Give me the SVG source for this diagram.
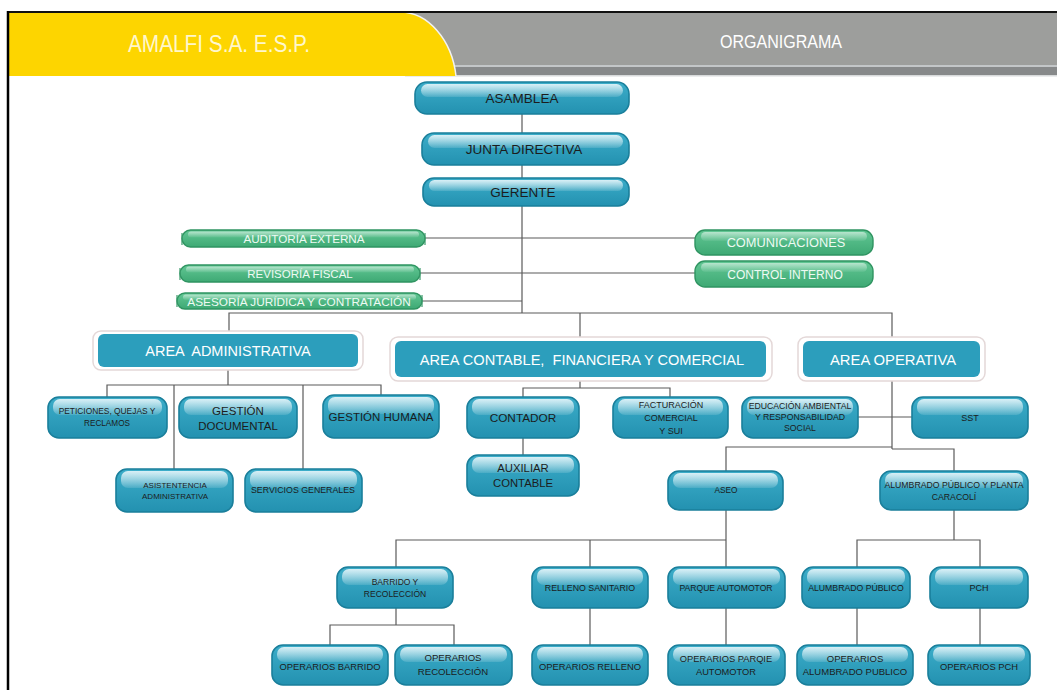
<svg xmlns="http://www.w3.org/2000/svg" width="1057" height="690" viewBox="0 0 1057 690">
<defs>
<linearGradient id="teal" x1="0" y1="0" x2="0" y2="1"><stop offset="0" stop-color="#3cadc9"/><stop offset="1" stop-color="#2391b0"/></linearGradient>
<linearGradient id="gloss" x1="0" y1="0" x2="0" y2="1"><stop offset="0" stop-color="#eaf7fb" stop-opacity="0.9"/><stop offset="1" stop-color="#ffffff" stop-opacity="0.12"/></linearGradient>
<linearGradient id="green" x1="0" y1="0" x2="0" y2="1"><stop offset="0" stop-color="#62c794"/><stop offset="1" stop-color="#3ea974"/></linearGradient>
<linearGradient id="ggloss" x1="0" y1="0" x2="0" y2="1"><stop offset="0" stop-color="#ffffff" stop-opacity="0.55"/><stop offset="1" stop-color="#ffffff" stop-opacity="0.05"/></linearGradient>
<style>
.nb{fill:url(#teal);stroke:#1a7f9b;stroke-width:1.6}
.gl{fill:url(#gloss)}
.gb{fill:url(#green);stroke:#2f9461;stroke-width:1.4}
.ggl{fill:url(#ggloss)}
.tick{stroke:#3a9a6a;stroke-width:1.2}
.ao{fill:#ffffff;stroke:#e4d8d8;stroke-width:1.5}
.ai{fill:#2c9ebc}
.tx{font-family:"Liberation Sans",Arial,sans-serif;fill:#1c1c1c;text-anchor:middle}
.wt{font-family:"Liberation Sans",Arial,sans-serif;fill:#ffffff;text-anchor:middle}
.gt{font-family:"Liberation Sans",Arial,sans-serif;fill:#eefaf3;text-anchor:middle}
.cn{fill:none;stroke:#5a5a5a;stroke-width:1.2}
</style>
</defs>
<rect width="1057" height="690" fill="#ffffff"/>
<g id="header">
<rect x="8" y="12" width="1049" height="64" fill="#9d9e9c"/>
<rect x="405" y="65" width="652" height="2" fill="#c3c6c8"/>
<rect x="405" y="67" width="652" height="8" fill="#87898a"/>
<rect x="405" y="75" width="652" height="1.5" fill="#d8dadb"/>
<path d="M8,12 H400 C428,12 452,40 456,76 H8 Z" fill="#fdd500"/>
<path d="M400,12 C428,12 452,40 456,76" fill="none" stroke="#f2f2f2" stroke-width="1.5"/>
<line x1="7" y1="12" x2="1057" y2="12" stroke="#111111" stroke-width="2"/>
<line x1="8" y1="11" x2="8" y2="690" stroke="#000000" stroke-width="2.5"/>
<text x="128" y="52" font-family="'Liberation Sans',Arial,sans-serif" font-size="23" fill="#fff7cc" textLength="182" lengthAdjust="spacingAndGlyphs">AMALFI S.A. E.S.P.</text>
<text x="720" y="48" font-family="'Liberation Sans',Arial,sans-serif" font-size="19" fill="#ffffff" textLength="122" lengthAdjust="spacingAndGlyphs">ORGANIGRAMA</text>
</g>
<g id="connectors" class="cn">
<path d="M522,114 V313"/>
<path d="M425,238 H695"/>
<path d="M420,273 H695"/>
<path d="M422,301 H522"/>
<path d="M229,335 V313 H892 V340"/>
<path d="M580,313 V340"/>
<path d="M228,368 V385"/>
<path d="M107,397 V385 H381 V395"/>
<path d="M174,385 V469"/>
<path d="M303,385 V469"/>
<path d="M580,378 V388"/>
<path d="M523,397 V388 H670 V397"/>
<path d="M523,438 V455"/>
<path d="M892,378 V449"/>
<path d="M858,417 H912"/>
<path d="M726,471 V447 H892"/>
<path d="M892,449 H954 V471"/>
<path d="M726,510 V567"/>
<path d="M396,567 V540 H726"/>
<path d="M590,540 V567"/>
<path d="M954,510 V540"/>
<path d="M857,567 V540 H980 V567"/>
<path d="M396,608 V625"/>
<path d="M330,645 V625 H454 V645"/>
<path d="M590,608 V645"/>
<path d="M726,608 V645"/>
<path d="M857,608 V645"/>
<path d="M980,608 V645"/>
</g>
<g id="asamblea"><rect class="nb" x="415" y="82" width="214" height="32" rx="12"/><rect class="gl" x="421" y="84" width="202" height="13" rx="6.5"/><text class="tx" x="522" y="103" font-size="13.5">ASAMBLEA</text></g>
<g id="junta-directiva"><rect class="nb" x="422" y="133" width="207" height="32" rx="12"/><rect class="gl" x="428" y="135" width="195" height="13" rx="6.5"/><text class="tx" x="524" y="154" font-size="13.5">JUNTA DIRECTIVA</text></g>
<g id="gerente"><rect class="nb" x="423" y="178" width="206" height="28" rx="11"/><rect class="gl" x="429" y="180" width="194" height="11" rx="5.5"/><text class="tx" x="523" y="197" font-size="13.5">GERENTE</text></g>
<g id="auditoria-externa"><rect class="gb" x="182" y="230" width="243" height="17" rx="8.5"/><rect class="ggl" x="188" y="231.5" width="231" height="6" rx="3"/><line class="tick" x1="182" y1="233" x2="182" y2="245"/><line class="tick" x1="425" y1="233" x2="425" y2="245"/><text class="gt" x="304" y="243" font-size="11.7">AUDITORÍA EXTERNA</text></g>
<g id="revisoria-fiscal"><rect class="gb" x="180" y="265" width="240" height="17" rx="8.5"/><rect class="ggl" x="186" y="266.5" width="228" height="6" rx="3"/><line class="tick" x1="180" y1="268" x2="180" y2="280"/><line class="tick" x1="420" y1="268" x2="420" y2="280"/><text class="gt" x="300" y="278" font-size="11.5">REVISORÍA FISCAL</text></g>
<g id="asesoria-juridica"><rect class="gb" x="177" y="293" width="245" height="16" rx="8"/><rect class="ggl" x="183" y="294.5" width="233" height="5.5" rx="2.7"/><line class="tick" x1="177" y1="295" x2="177" y2="307"/><line class="tick" x1="422" y1="295" x2="422" y2="307"/><text class="gt" x="299" y="305.5" font-size="11.8">ASESORÍA JURÍDICA Y CONTRATACIÓN</text></g>
<g id="comunicaciones"><rect class="gb" x="695" y="230" width="178" height="25" rx="10"/><rect class="ggl" x="701" y="232" width="166" height="9" rx="4.5"/><text class="gt" x="786" y="247" font-size="12.8">COMUNICACIONES</text></g>
<g id="control-interno"><rect class="gb" x="695" y="261" width="178" height="26" rx="10"/><rect class="ggl" x="701" y="263" width="166" height="9" rx="4.5"/><text class="gt" x="785" y="278.5" font-size="12">CONTROL INTERNO</text></g>
<g id="area-administrativa"><rect class="ao" x="93" y="331" width="270" height="39" rx="8"/><rect class="ai" x="98" y="334" width="260" height="33" rx="6"/><text class="wt" x="228" y="356" font-size="14.5" xml:space="preserve">AREA  ADMINISTRATIVA</text></g>
<g id="area-contable"><rect class="ao" x="390" y="337" width="382" height="44" rx="8"/><rect class="ai" x="395" y="341" width="371" height="36" rx="6"/><text class="wt" x="582" y="364.5" font-size="14.6" xml:space="preserve">AREA CONTABLE,  FINANCIERA Y COMERCIAL</text></g>
<g id="area-operativa"><rect class="ao" x="798" y="337" width="187" height="44" rx="8"/><rect class="ai" x="803" y="341" width="177" height="36" rx="6"/><text class="wt" x="893" y="364.5" font-size="14.8">AREA OPERATIVA</text></g>
<g id="pqr"><rect class="nb" x="48" y="397" width="119" height="41" rx="11"/><rect class="gl" x="53" y="399" width="109" height="16" rx="7"/><text class="tx" x="107" y="414" font-size="8.4">PETICIONES, QUEJAS Y</text><text class="tx" x="107" y="425.5" font-size="8.2">RECLAMOS</text></g>
<g id="gestion-documental"><rect class="nb" x="179" y="397" width="118" height="41" rx="11"/><rect class="gl" x="184" y="399" width="108" height="16" rx="7"/><text class="tx" x="238" y="415" font-size="11.5">GESTIÓN</text><text class="tx" x="238" y="430" font-size="11.5">DOCUMENTAL</text></g>
<g id="gestion-humana"><rect class="nb" x="323" y="395" width="116" height="43" rx="11"/><rect class="gl" x="328" y="397" width="106" height="17" rx="7"/><text class="tx" x="381" y="421" font-size="11.5">GESTIÓN HUMANA</text></g>
<g id="asistencia-administrativa"><rect class="nb" x="116" y="469" width="117" height="43" rx="11"/><rect class="gl" x="121" y="471" width="107" height="17" rx="7"/><text class="tx" x="175" y="488" font-size="8">ASISTENTENCIA</text><text class="tx" x="175" y="499" font-size="8">ADMINISTRATIVA</text></g>
<g id="servicios-generales"><rect class="nb" x="245" y="469" width="117" height="43" rx="11"/><rect class="gl" x="250" y="471" width="107" height="17" rx="7"/><text class="tx" x="303" y="493" font-size="8.8">SERVICIOS GENERALES</text></g>
<g id="contador"><rect class="nb" x="467" y="397" width="112" height="41" rx="11"/><rect class="gl" x="472" y="399" width="102" height="16" rx="7"/><text class="tx" x="523" y="422" font-size="11.8">CONTADOR</text></g>
<g id="auxiliar-contable"><rect class="nb" x="467" y="455" width="112" height="41" rx="11"/><rect class="gl" x="472" y="457" width="102" height="16" rx="7"/><text class="tx" x="523" y="472" font-size="11.3">AUXILIAR</text><text class="tx" x="523" y="487" font-size="11.3">CONTABLE</text></g>
<g id="facturacion"><rect class="nb" x="613" y="397" width="115" height="41" rx="11"/><rect class="gl" x="618" y="399" width="105" height="16" rx="7"/><text class="tx" x="671" y="408" font-size="9">FACTURACIÓN</text><text class="tx" x="671" y="421" font-size="9">COMERCIAL</text><text class="tx" x="671" y="434" font-size="9">Y SUI</text></g>
<g id="educacion-ambiental"><rect class="nb" x="742" y="397" width="116" height="41" rx="11"/><rect class="gl" x="747" y="399" width="106" height="16" rx="7"/><text class="tx" x="800" y="409" font-size="8.7">EDUCACIÓN AMBIENTAL</text><text class="tx" x="800" y="420" font-size="8.7">Y RESPONSABILIDAD</text><text class="tx" x="800" y="431" font-size="8.7">SOCIAL</text></g>
<g id="sst"><rect class="nb" x="912" y="397" width="116" height="41" rx="11"/><rect class="gl" x="917" y="399" width="106" height="16" rx="7"/><text class="tx" x="970" y="420.5" font-size="9">SST</text></g>
<g id="aseo"><rect class="nb" x="668" y="471" width="115" height="39" rx="11"/><rect class="gl" x="673" y="473" width="105" height="15" rx="7"/><text class="tx" x="726" y="493" font-size="8.3">ASEO</text></g>
<g id="alumbrado-planta"><rect class="nb" x="880" y="471" width="148" height="39" rx="11"/><rect class="gl" x="885" y="473" width="138" height="15" rx="7"/><text class="tx" x="954" y="488" font-size="8.7">ALUMBRADO PÚBLICO Y PLANTA</text><text class="tx" x="954" y="500" font-size="8.7">CARACOLÍ</text></g>
<g id="barrido-recoleccion"><rect class="nb" x="337" y="567" width="116" height="41" rx="11"/><rect class="gl" x="342" y="569" width="106" height="16" rx="7"/><text class="tx" x="395" y="585" font-size="8.5">BARRIDO Y</text><text class="tx" x="395" y="597" font-size="8.5">RECOLECCIÓN</text></g>
<g id="relleno-sanitario"><rect class="nb" x="532" y="567" width="116" height="41" rx="11"/><rect class="gl" x="537" y="569" width="106" height="16" rx="7"/><text class="tx" x="590" y="591" font-size="8.8">RELLENO SANITARIO</text></g>
<g id="parque-automotor"><rect class="nb" x="668" y="567" width="117" height="41" rx="11"/><rect class="gl" x="673" y="569" width="107" height="16" rx="7"/><text class="tx" x="726" y="591" font-size="8.6">PARQUE AUTOMOTOR</text></g>
<g id="alumbrado-publico"><rect class="nb" x="802" y="567" width="108" height="41" rx="11"/><rect class="gl" x="807" y="569" width="98" height="16" rx="7"/><text class="tx" x="856" y="591" font-size="8.7">ALUMBRADO PÚBLICO</text></g>
<g id="pch"><rect class="nb" x="930" y="567" width="98" height="41" rx="11"/><rect class="gl" x="935" y="569" width="88" height="16" rx="7"/><text class="tx" x="979" y="591" font-size="9">PCH</text></g>
<g id="operarios-barrido"><rect class="nb" x="272" y="645" width="116" height="40" rx="11"/><rect class="gl" x="277" y="647" width="106" height="15" rx="7"/><text class="tx" x="330" y="670" font-size="9.4">OPERARIOS BARRIDO</text></g>
<g id="operarios-recoleccion"><rect class="nb" x="395" y="645" width="117" height="40" rx="11"/><rect class="gl" x="400" y="647" width="107" height="15" rx="7"/><text class="tx" x="453" y="661" font-size="9.6">OPERARIOS</text><text class="tx" x="453" y="675" font-size="9.6">RECOLECCIÓN</text></g>
<g id="operarios-relleno"><rect class="nb" x="532" y="645" width="116" height="40" rx="11"/><rect class="gl" x="537" y="647" width="106" height="15" rx="7"/><text class="tx" x="590" y="670" font-size="9.4">OPERARIOS RELLENO</text></g>
<g id="operarios-parque"><rect class="nb" x="668" y="645" width="117" height="40" rx="11"/><rect class="gl" x="673" y="647" width="107" height="15" rx="7"/><text class="tx" x="726" y="662" font-size="9.3">OPERARIOS PARQIE</text><text class="tx" x="726" y="675" font-size="9.3">AUTOMOTOR</text></g>
<g id="operarios-alumbrado"><rect class="nb" x="797" y="645" width="116" height="40" rx="11"/><rect class="gl" x="802" y="647" width="106" height="15" rx="7"/><text class="tx" x="855" y="662" font-size="9.5">OPERARIOS</text><text class="tx" x="855" y="675" font-size="9.5">ALUMBRADO PUBLICO</text></g>
<g id="operarios-pch"><rect class="nb" x="928" y="645" width="102" height="40" rx="11"/><rect class="gl" x="933" y="647" width="92" height="15" rx="7"/><text class="tx" x="979" y="670" font-size="9.4">OPERARIOS PCH</text></g>
</svg>
